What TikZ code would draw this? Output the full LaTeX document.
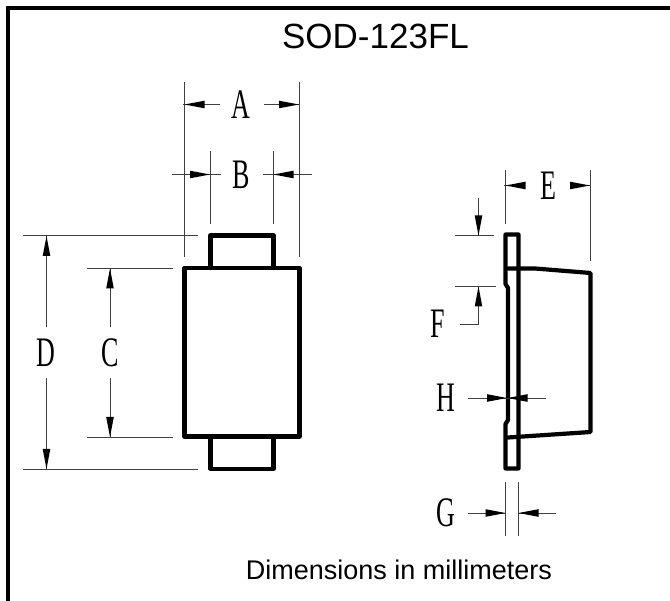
\documentclass[tikz,border=0pt]{standalone}
\usepackage{fontspec}
\setmainfont{Liberation Sans}
\newfontfamily\dimfont{Liberation Serif}
\usetikzlibrary{arrows.meta}
\tikzset{
 x=1pt,y=-1pt,
 frame/.style={line width=3.6pt,line cap=butt},
 body/.style={line width=4.2pt,line join=round,line cap=round},
 thin line/.style={line width=0.9pt,black!75},
 dimarrow/.style={line width=0.9pt,black!75},
 tip/.style={fill=black,draw=none},
 letter/.style={inner sep=0pt,font=\dimfont\fontsize{42}{42}\selectfont},
 caption/.style={inner sep=0pt,text=black}
}
\newcommand{\cond}[1]{\scalebox{0.62}[1]{#1}}
\newcommand{\tipat}[3]{\fill[tip] (#1,#2) -- ++(#3*20,-3.8) -- ++(0,7.6) -- cycle;}
\newcommand{\vtipat}[3]{\fill[tip] (#1,#2) -- ++(-3.8,#3*20) -- ++(7.6,0) -- cycle;}
\begin{document}
\begin{tikzpicture}
\useasboundingbox (0,0) rectangle (670,601);
% frame
\coordinate (fa) at (7.8,601); \coordinate (fb) at (7.8,8); \coordinate (fc) at (670,8);
\draw[frame] (fa) -- (fb) -- (fc);
\node[caption,font=\fontsize{35}{35}\selectfont] (title) at (375.5,36) {SOD-123FL};
\node[caption,font=\fontsize{27}{27}\selectfont] (cap) at (399,570) {Dimensions in millimeters};
% front body
\coordinate (tl) at (184.5,268); \coordinate (tr) at (299.5,268); \coordinate (br) at (299.5,436.5); \coordinate (bl) at (184.5,436.5);
\draw[body] (tl) -- (tr) -- (br) -- (bl) -- cycle;
\coordinate (ua) at (210.5,268); \coordinate (ub) at (210.5,235.5); \coordinate (uc) at (273.5,235.5); \coordinate (ud) at (273.5,268);
\draw[body] (ua) -- (ub) -- (uc) -- (ud);
\coordinate (la) at (210.5,436.5); \coordinate (lb) at (210.5,469); \coordinate (lc) at (273.5,469); \coordinate (ld) at (273.5,436.5);
\draw[body] (la) -- (lb) -- (lc) -- (ld);
% extension lines front
\draw[thin line] (184.5,82) -- (184.5,257);
\draw[thin line] (299,82) -- (299,257);
\draw[thin line] (210,151) -- (210,224);
\draw[thin line] (273.5,151) -- (273.5,224);
\draw[thin line] (23,235.5) -- (198,235.5);
\draw[thin line] (87,268.5) -- (173,268.5);
\draw[thin line] (87,437) -- (173,437);
\draw[thin line] (23,469.5) -- (198,469.5);
% A
\draw[dimarrow] (183,104.5) -- (220,104.5);
\draw[dimarrow] (264,104.5) -- (300,104.5);
\tipat{184.5}{104.5}{1} \tipat{299}{104.5}{-1}
\node[letter] (A) at (241,105) {\cond{A}};
% B
\draw[dimarrow] (172,174.5) -- (221,174.5);
\draw[dimarrow] (263,174.5) -- (312,174.5);
\tipat{210}{174.5}{-1} \tipat{273.5}{174.5}{1}
\node[letter] (B) at (241,175) {\cond{B}};
% D
\draw[dimarrow] (46.5,236) -- (46.5,327);
\draw[dimarrow] (46.5,378) -- (46.5,469);
\vtipat{46.5}{236}{1} \vtipat{46.5}{469}{-1}
\node[letter] (D) at (46,353) {\cond{D}};
% C
\draw[dimarrow] (110,268.5) -- (110,327);
\draw[dimarrow] (110,378) -- (110,437);
\vtipat{110}{268.5}{1} \vtipat{110}{437}{-1}
\node[letter] (C) at (110,353) {\cond{C}};
% side view
\draw[body] (505.5,234.5) -- (518.5,234.5) -- (518.5,468.5) -- (505.5,468.5) -- (505.5,424) -- (508,420) -- (508,288) -- (505.5,284) -- cycle;
\draw[body] (508,268.5) -- (535,268.5) -- (590.5,273) -- (590.5,432) -- (508,437.5);
% E
\draw[thin line] (505.5,170) -- (505.5,224);
\draw[thin line] (590,170) -- (590,261);
\draw[dimarrow] (504,185.5) -- (525,185.5);
\draw[dimarrow] (570,185.5) -- (591,185.5);
\tipat{505.5}{185.5}{1} \tipat{590}{185.5}{-1}
\node[letter] (E) at (548,186) {\cond{E}};
% F
\draw[thin line] (455,235.5) -- (494,235.5);
\draw[thin line] (455,286.5) -- (496,286.5);
\draw[dimarrow] (478.5,198) -- (478.5,235.5);
\draw[dimarrow] (478.5,286.5) -- (478.5,324) -- (460,324);
\vtipat{478.5}{235.5}{-1} \vtipat{478.5}{286.5}{1}
\node[letter] (F) at (438,324) {\cond{F}};
% H
\draw[dimarrow] (468,398) -- (546,398);
\tipat{507}{398}{-1} \tipat{507.5}{398}{1}
\node[letter] (H) at (446,398) {\cond{H}};
% G
\draw[thin line] (505.5,482) -- (505.5,536);
\draw[thin line] (518.5,482) -- (518.5,536);
\draw[dimarrow] (468,513) -- (505.5,513);
\draw[dimarrow] (518.5,513) -- (556,513);
\tipat{505.5}{513}{-1} \tipat{518.5}{513}{1}
\node[letter] (G) at (446,513) {\cond{G}};
\end{tikzpicture}
\end{document}
